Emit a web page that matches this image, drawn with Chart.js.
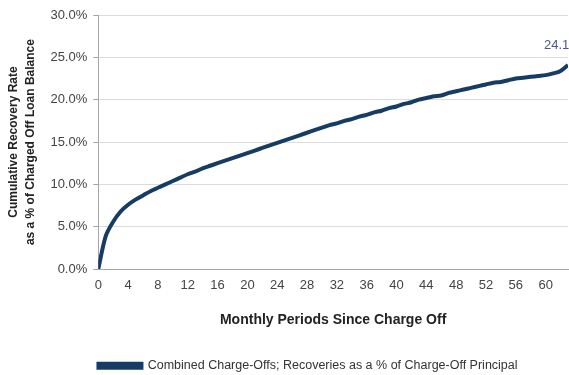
<!DOCTYPE html>
<html>
<head>
<meta charset="utf-8">
<script src="https://cdn.jsdelivr.net/npm/chart.js@4/dist/chart.umd.min.js"></script>
<style>
  html, body { margin: 0; padding: 0; background: #fff; }
  #wrap { width: 569px; height: 375px; }
</style>
</head>
<body>
<div id="wrap"><canvas id="recoveryChart" width="569" height="375"></canvas></div>
<script>
// months since charge off and cumulative recovery (% of charged off balance)
const months = [
   0,  1,  2,  3,  4,  5,  6,  7,  8,  9, 10, 11, 12, 13, 14, 15,
  16, 17, 18, 19, 20, 21, 22, 23, 24, 25, 26, 27, 28, 29, 30, 31,
  32, 33, 34, 35, 36, 37, 38, 39, 40, 41, 42, 43, 44, 45, 46, 47,
  48, 49, 50, 51, 52, 53, 54, 55, 56, 57, 58, 59, 60, 61, 62, 63
];
const recoveryRate = [
   0.0,  3.9,  5.6,  6.8,  7.6,  8.2,  8.7,  9.2,  9.6, 10.0, 10.4, 10.8, 11.2, 11.5, 11.9, 12.2,
  12.5, 12.8, 13.1, 13.4, 13.7, 14.0, 14.3, 14.6, 14.9, 15.2, 15.5, 15.8, 16.1, 16.4, 16.7, 17.0,
  17.2, 17.5, 17.7, 18.0, 18.2, 18.5, 18.7, 19.0, 19.2, 19.5, 19.7, 20.0, 20.2, 20.4, 20.5, 20.8,
  21.0, 21.2, 21.4, 21.6, 21.8, 22.0, 22.1, 22.3, 22.5, 22.6, 22.7, 22.8, 22.9, 23.1, 23.4, 24.1
];
const seriesName = 'Combined Charge-Offs; Recoveries as a % of Charge-Off Principal';
const endLabel = '24.1';

const navy = '#173c63';
const font = '"Liberation Sans", Arial, sans-serif';

// label over the last point
const endLabelPlugin = {
    id: 'endLabel',
    afterDatasetsDraw(chart) {
        const meta = chart.getDatasetMeta(0);
        const pt = meta.data[meta.data.length - 1];
        const ctx = chart.ctx;
        ctx.save();
        ctx.font = '13px ' + font;
        ctx.fillStyle = '#4b5596';
        ctx.textAlign = 'left';
        ctx.textBaseline = 'middle';
        ctx.fillText(endLabel, pt.x - 24, pt.y - 20);
        ctx.restore();
    }
};

// nudge the legend right and down like the original
const legendShift = {
    id: 'legendShift',
    afterLayout(chart) {
        chart.legend.left += 24;
        chart.legend.right += 24;
        chart.legend.top += 7;
        chart.legend.bottom += 7;
    }
};

var ctx = document.getElementById('recoveryChart').getContext('2d');
var recoveryChart = new Chart(ctx, {
    type: 'line',
    data: {
        datasets: [{
            label: seriesName,
            data: months.map((m, i) => ({ x: m, y: recoveryRate[i] })),
            borderColor: navy,
            backgroundColor: navy,
            borderWidth: 4,
            pointRadius: 0,
            tension: 0.3,
            fill: false
        }]
    },
    options: {
        responsive: false,
        animation: false,
        layout: { padding: { left: 0, right: 1, top: 15, bottom: 0 } },
        plugins: {
            legend: {
                position: 'bottom',
                labels: {
                    boxWidth: 43,
                    boxHeight: 4,
                    color: '#333',
                    font: { family: font, size: 12.5 },
                    padding: 6
                }
            },
            tooltip: { enabled: false }
        },
        scales: {
            x: {
                type: 'linear',
                min: 0,
                max: 63,
                grid: { display: false, drawTicks: false },
                border: { display: true, color: '#a6a6a6', width: 1 },
                ticks: {
                    stepSize: 4,
                    includeBounds: false,
                    padding: 9,
                    maxRotation: 0,
                    color: '#444',
                    font: { family: font, size: 13 }
                },
                title: {
                    display: true,
                    text: 'Monthly Periods Since Charge Off',
                    color: '#222',
                    font: { family: font, size: 14, weight: 'bold' },
                    padding: { top: 9, bottom: 18 }
                }
            },
            y: {
                min: 0,
                max: 30,
                grid: { color: '#dcdcdc', tickColor: '#a6a6a6', tickLength: 5 },
                border: { display: true, color: '#a6a6a6', width: 1 },
                ticks: {
                    stepSize: 5,
                    padding: 6,
                    color: '#444',
                    font: { family: font, size: 13 },
                    callback: v => v.toFixed(1) + '%'
                },
                title: {
                    display: true,
                    text: ['Cumulative Recovery Rate', 'as a % of Charged Off Loan Balance'],
                    color: '#222',
                    font: { family: font, size: 12, weight: 'bold', lineHeight: 1.35 },
                    padding: { top: 6, bottom: 6 }
                }
            }
        }
    },
    plugins: [endLabelPlugin, legendShift]
});
</script>
</body>
</html>
